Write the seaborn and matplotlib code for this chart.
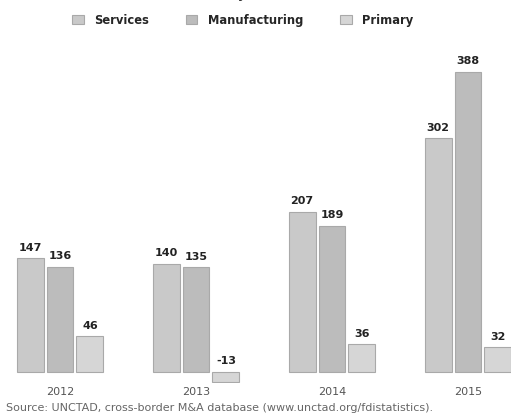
import pandas as pd
import matplotlib.pyplot as plt
import seaborn as sns

# Net cross-border M&As by sector (billions of dollars)
years = ["2012", "2013", "2014", "2015"]
sectors = ["Services", "Manufacturing", "Primary"]
services = [147, 140, 207, 302]
manufacturing = [136, 135, 189, 388]
primary = [46, -13, 36, 32]

df = pd.DataFrame({
    "year": years * 3,
    "sector": ["Services"] * 4 + ["Manufacturing"] * 4 + ["Primary"] * 4,
    "value": services + manufacturing + primary,
})

palette = {"Services": "#c9c9c9", "Manufacturing": "#bcbcbc", "Primary": "#d6d6d6"}

sns.set_style("white")
fig = plt.figure(figsize=(5.11, 4.19), dpi=100)
ax = fig.add_axes([0.0, 0.0864, 1.0, 0.7704])

sns.barplot(data=df, x="year", y="value", hue="sector", hue_order=sectors,
            palette=palette, width=0.66, gap=0.1, edgecolor="#a9a9a9",
            linewidth=0.8, saturation=1, ax=ax, legend=True)

for cont in ax.containers:
    for bar in cont:
        h = bar.get_height()
        x = bar.get_x() + bar.get_width() / 2
        ax.annotate(f"{h:.0f}", (x, max(h, 0)), xytext=(0, 4),
                    textcoords="offset points", ha="center", va="bottom",
                    fontsize=8, fontweight="bold", color="#222222")

ax.set_xlim(-0.441, 3.316)
ax.set_ylim(-14, 403)
ax.set_xlabel("")
ax.set_ylabel("")
ax.set_yticks([])
ax.tick_params(axis="x", length=0, pad=3, labelsize=8, colors="#555555")
sns.despine(ax=ax, left=True, bottom=True)

handles, labels = ax.get_legend_handles_labels()
ax.get_legend().remove()
fig.legend(handles, labels, loc="center", bbox_to_anchor=(0.475, 0.952), ncol=3,
           frameon=False, prop={"size": 8.3, "weight": "bold"}, handlelength=1.0,
           handleheight=0.8, columnspacing=3.2, handletextpad=0.9)

# title is cut off at the top edge in the reference
fig.text(0.5, 1.012, "Value of net cross-border M&As, by sector, 2012–2015 (Billions of dollars)",
         ha="center", va="center", fontsize=9, fontweight="bold", color="#333333")

fig.text(0.012, 0.026,
         "Source: UNCTAD, cross-border M&A database (www.unctad.org/fdistatistics).",
         ha="left", va="center", fontsize=8, color="#666666")

fig.savefig("out.png", dpi=100)
